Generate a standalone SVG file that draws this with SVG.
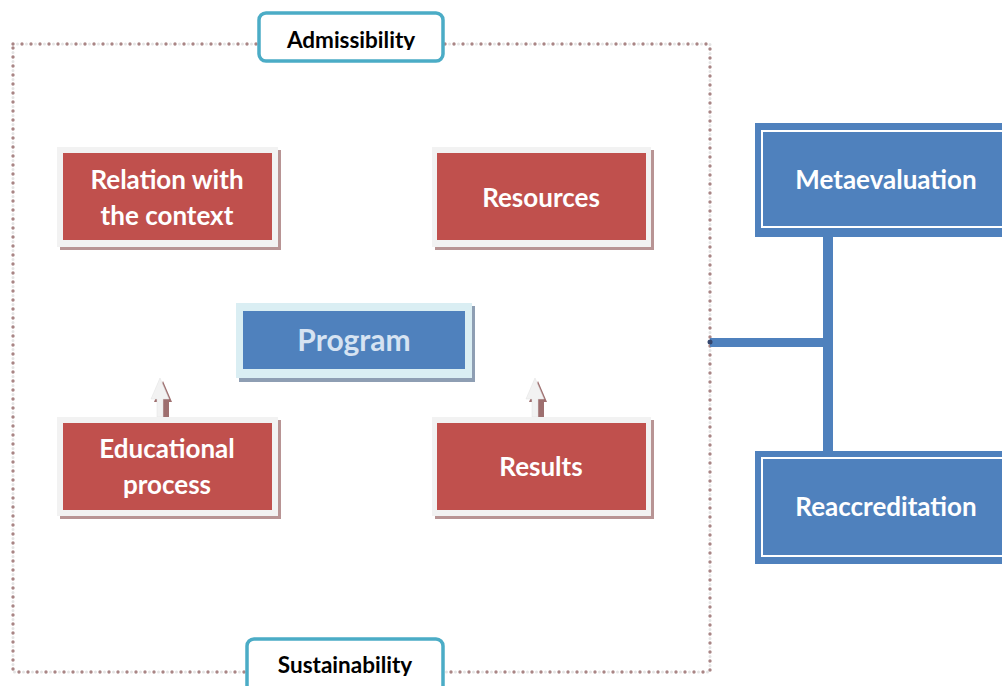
<svg xmlns="http://www.w3.org/2000/svg" width="1002" height="686" viewBox="0 0 1002 686">
<style>
.lbl{font-family:Lato,"Open Sans","Liberation Sans",sans-serif;font-weight:bold;text-anchor:middle}
.wt{fill:#ffffff;font-size:26px}
.blk{fill:#000000;font-size:22.5px}
.frame{fill:#f2f2f2}
.rshadow{fill:#b89494}
.red{fill:#c0504d}
.blue{fill:#4f81bd}
.tab{fill:#ffffff;stroke:#4bacc6;stroke-width:3.5}
.arrow{fill:#f2f2f2;stroke:#e0e0e0;stroke-width:0.5}
.arrowsh{fill:#9e6f6f}
</style>
<defs>
<clipPath id="clipA"><rect x="257" y="11" width="188" height="39"/></clipPath>
<clipPath id="clipS"><rect x="245" y="637" width="200" height="39"/></clipPath>
</defs>
<g id="border">
<rect x="13" y="44" width="697" height="628" fill="none" stroke="#e3e3e3" stroke-width="3" stroke-linecap="round" stroke-dasharray="0 9" stroke-dashoffset="4.5"/>
<rect x="13" y="44" width="697" height="628" fill="none" stroke="#a98585" stroke-width="3.4" stroke-linecap="round" stroke-dasharray="0 9"/>
</g>
<g id="connectors">
<line x1="828" y1="237" x2="828" y2="451" stroke="#4f81bd" stroke-width="10"/>
<line x1="710" y1="342.5" x2="828" y2="342.5" stroke="#4f81bd" stroke-width="9"/>
<circle cx="710" cy="342" r="2.5" fill="#34466e"/>
<g id="arrow-edu">
<path class="arrowsh" d="M163 381 L172 402 L169 402 L169 420 L163 420 L163 402 L154 402 Z"/>
<path class="arrow" d="M160 378 L169 399 L163 399 L163 417 L157 417 L157 399 L151 399 Z"/>
</g>
<g id="arrow-res">
<path class="arrowsh" d="M538 381 L547 402 L544 402 L544 420 L538 420 L538 402 L529 402 Z"/>
<path class="arrow" d="M535 378 L544 399 L538 399 L538 417 L532 417 L532 399 L526 399 Z"/>
</g>
</g>
<g id="node-admissibility">
<rect class="tab" x="259" y="13" width="184" height="48" rx="7"/>
<text class="lbl blk" x="351" y="48" clip-path="url(#clipA)">Admissibility</text>
</g>
<g id="node-sustainability">
<rect class="tab" x="247" y="639" width="196" height="60" rx="7"/>
<text class="lbl blk" x="345" y="673" clip-path="url(#clipS)">Sustainability</text>
</g>
<g id="node-relation">
<rect class="rshadow" x="60" y="150" width="221" height="100"/>
<rect class="frame" x="57" y="147" width="221" height="100"/>
<rect class="red" x="63" y="153" width="209" height="87"/>
<text class="lbl wt" x="167" y="189">Relation with</text>
<text class="lbl wt" x="167" y="225">the context</text>
</g>
<g id="node-resources">
<rect class="rshadow" x="435" y="150" width="219" height="100"/>
<rect class="frame" x="432" y="147" width="219" height="100"/>
<rect class="red" x="437" y="153" width="209" height="87"/>
<text class="lbl wt" x="541" y="207">Resources</text>
</g>
<g id="node-program">
<rect x="239" y="306" width="236" height="76" fill="#8e9eb3"/>
<rect x="236" y="303" width="236" height="75" fill="#daeef3"/>
<rect class="blue" x="243" y="311" width="222" height="58"/>
<text class="lbl" x="354" y="351" fill="#d6e3f2" font-size="30">Program</text>
</g>
<g id="node-educational">
<rect class="rshadow" x="60" y="420" width="221" height="99"/>
<rect class="frame" x="57" y="417" width="221" height="99"/>
<rect class="red" x="63" y="423" width="209" height="87"/>
<text class="lbl wt" x="167" y="458">Educational</text>
<text class="lbl wt" x="167" y="494">process</text>
</g>
<g id="node-results">
<rect class="rshadow" x="435" y="420" width="219" height="99"/>
<rect class="frame" x="432" y="417" width="219" height="99"/>
<rect class="red" x="437" y="423" width="209" height="87"/>
<text class="lbl wt" x="541" y="476">Results</text>
</g>
<g id="node-metaevaluation">
<rect class="blue" x="755" y="123" width="260" height="114"/>
<rect x="762" y="131" width="260" height="96" fill="none" stroke="#ffffff" stroke-width="2"/>
<text class="lbl wt" x="886" y="189">Metaevaluation</text>
</g>
<g id="node-reaccreditation">
<rect class="blue" x="755" y="451" width="260" height="113"/>
<rect x="762" y="458" width="260" height="98" fill="none" stroke="#ffffff" stroke-width="2"/>
<text class="lbl wt" x="886" y="516">Reaccreditation</text>
</g>
</svg>
